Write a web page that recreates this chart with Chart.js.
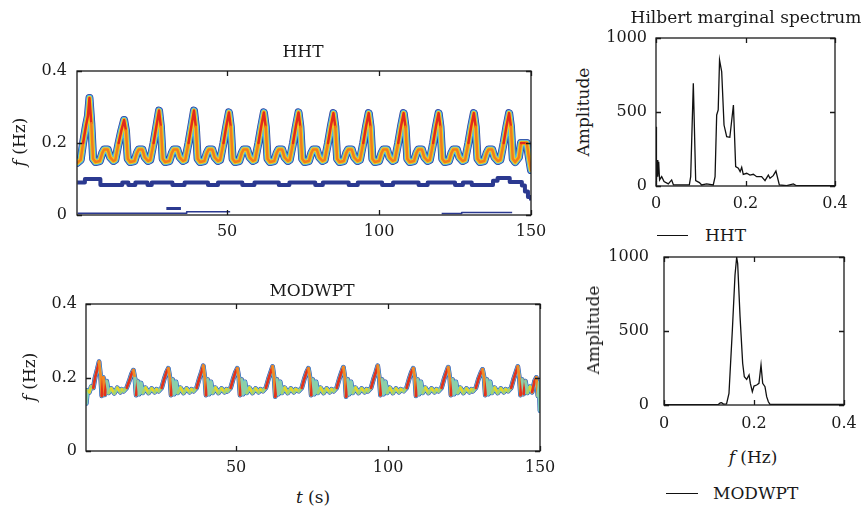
<!DOCTYPE html>
<html>
<head>
<meta charset="utf-8">
<script src="https://cdn.jsdelivr.net/npm/chart.js@4.4.1/dist/chart.umd.min.js"></script>
<style>
  body { margin: 0; background: #fff; }
  #wrap { position: relative; width: 866px; height: 513px; overflow: hidden; font-family: "DejaVu Serif", serif; color: #1a1a1a; }
  canvas { position: absolute; }
  .lbl { position: absolute; font-size: 17px; white-space: nowrap; transform: translate(-50%, -50%); }
  .rot { transform: translate(-50%, -50%) rotate(-90deg); }
  .lgline { position: absolute; height: 0; border-top: 1.3px solid #111; }
  .lgtext { position: absolute; font-size: 17px; transform: translateY(-50%); }
</style>
</head>
<body>
<div id="wrap">
  <canvas id="hhtTF" width="551" height="190" style="left:0px;top:60px"></canvas>
  <canvas id="modTF" width="560" height="196" style="left:0px;top:290px"></canvas>
  <canvas id="hhtSpec" width="255" height="190" style="left:600px;top:26px"></canvas>
  <canvas id="modSpec" width="264" height="190" style="left:600px;top:245px"></canvas>

  <div class="lbl" style="left:303px;top:51px">HHT</div>
  <div class="lbl" style="left:312px;top:290px">MODWPT</div>
  <div class="lbl" style="left:746px;top:17px">Hilbert marginal spectrum</div>
  <div class="lbl rot" style="left:19px;top:142px"><i>f</i> (Hz)</div>
  <div class="lbl rot" style="left:29px;top:377px"><i>f</i> (Hz)</div>
  <div class="lbl rot" style="left:583px;top:112px">Amplitude</div>
  <div class="lbl rot" style="left:593px;top:330px">Amplitude</div>
  <div class="lbl" style="left:313px;top:497px"><i>t</i> (s)</div>
  <div class="lbl" style="left:753px;top:457px"><i>f</i> (Hz)</div>

  <div class="lgline" style="left:657px;top:235px;width:31px"></div>
  <div class="lgtext" style="left:705px;top:235px">HHT</div>
  <div class="lgline" style="left:666px;top:493px;width:32px"></div>
  <div class="lgtext" style="left:713px;top:493px">MODWPT</div>
</div>

<script>
// --- HHT time-frequency: main ridge (t in s, f in Hz)
const hhtTime = [0.7, 1.8, 2.6, 3.6, 4.2, 4.7, 5.3, 5.9, 6.7, 8.1, 8.9, 9.5, 10.7, 11.5, 12.6,
  13.2, 14.3, 15.2, 16.1, 16.7, 17.3, 18.1, 19.5, 20.3, 20.9, 22.1, 22.9, 24.0,
  24.7, 25.8, 26.7, 27.6, 28.2, 28.8, 29.6, 31.0, 31.8, 32.4, 33.6, 34.4, 35.5,
  36.2, 37.3, 38.2, 39.1, 39.7, 40.3, 41.1, 42.5, 43.3, 43.9, 45.1, 45.9, 47.0,
  47.7, 48.8, 49.7, 50.6, 51.2, 51.8, 52.6, 54.0, 54.8, 55.4, 56.6, 57.4, 58.5,
  59.2, 60.3, 61.2, 62.1, 62.7, 63.3, 64.1, 65.5, 66.3, 66.9, 68.1, 68.9, 70.0,
  70.6, 71.7, 72.6, 73.5, 74.1, 74.7, 75.5, 76.9, 77.7, 78.3, 79.5, 80.3, 81.4,
  82.1, 83.2, 84.1, 85.0, 85.6, 86.2, 87.0, 88.4, 89.2, 89.8, 91.0, 91.8, 92.9,
  93.7, 94.8, 95.7, 96.6, 97.2, 97.8, 98.6, 100.0, 100.8, 101.4, 102.6, 103.4, 104.5,
  105.2, 106.3, 107.2, 108.1, 108.7, 109.3, 110.1, 111.5, 112.3, 112.9, 114.1, 114.9, 116.0,
  116.7, 117.8, 118.7, 119.6, 120.2, 120.8, 121.6, 123.0, 123.8, 124.4, 125.6, 126.4, 127.5,
  128.3, 129.4, 130.3, 131.2, 131.8, 132.4, 133.2, 134.6, 135.4, 136.0, 137.2, 138.0, 139.1,
  139.9, 141.0, 141.9, 142.8, 143.4, 144.0, 144.8, 146.0, 146.7, 148.6, 149.3, 150.0];
const hhtFreq = [0.145, 0.153, 0.2, 0.25, 0.275, 0.325, 0.255, 0.156, 0.147, 0.15, 0.172, 0.182, 0.182, 0.16, 0.15,
  0.153, 0.2, 0.235, 0.264, 0.235, 0.156, 0.147, 0.15, 0.172, 0.182, 0.182, 0.16, 0.15,
  0.153, 0.2, 0.245, 0.29, 0.245, 0.156, 0.147, 0.15, 0.172, 0.182, 0.182, 0.16, 0.15,
  0.153, 0.2, 0.245, 0.29, 0.245, 0.156, 0.147, 0.15, 0.172, 0.182, 0.182, 0.16, 0.15,
  0.153, 0.2, 0.245, 0.285, 0.245, 0.156, 0.147, 0.15, 0.172, 0.182, 0.182, 0.16, 0.15,
  0.153, 0.2, 0.245, 0.285, 0.245, 0.156, 0.147, 0.15, 0.172, 0.182, 0.182, 0.16, 0.15,
  0.153, 0.2, 0.245, 0.285, 0.245, 0.156, 0.147, 0.15, 0.172, 0.182, 0.182, 0.16, 0.15,
  0.153, 0.2, 0.245, 0.283, 0.245, 0.156, 0.147, 0.15, 0.172, 0.182, 0.182, 0.16, 0.15,
  0.153, 0.2, 0.245, 0.283, 0.245, 0.156, 0.147, 0.15, 0.172, 0.182, 0.182, 0.16, 0.15,
  0.153, 0.2, 0.245, 0.283, 0.245, 0.156, 0.147, 0.15, 0.172, 0.182, 0.182, 0.16, 0.15,
  0.153, 0.2, 0.245, 0.283, 0.245, 0.156, 0.147, 0.15, 0.172, 0.182, 0.182, 0.16, 0.15,
  0.153, 0.2, 0.245, 0.283, 0.245, 0.156, 0.147, 0.15, 0.172, 0.182, 0.182, 0.16, 0.15,
  0.153, 0.2, 0.245, 0.283, 0.245, 0.156, 0.147, 0.16, 0.2, 0.2, 0.16, 0.125];

// HHT lower IMF (stepped, around 0.09 Hz)
const hhtLowTime = [0.7, 3.2, 8.3, 15.5, 17.5, 19.8, 23.8, 25.2, 32.0, 36.0, 43.7, 47.0, 55.0, 59.0, 67.0, 70.5,
  79.0, 81.5, 90.0, 93.0, 101.0, 104.6, 113.0, 116.0, 125.0, 127.6, 130.5, 137.5, 139.0, 143.0, 147.0, 148.0, 149.0, 150.0];
const hhtLowFreq = [0.09, 0.1, 0.083, 0.09, 0.083, 0.09, 0.083, 0.09, 0.083, 0.09, 0.083, 0.09, 0.083, 0.09, 0.083, 0.09,
  0.083, 0.09, 0.083, 0.09, 0.083, 0.09, 0.083, 0.09, 0.083, 0.09, 0.083, 0.095, 0.103, 0.092, 0.082, 0.065, 0.05, 0.04];

// HHT residual traces near 0 Hz (null = gap)
const hhtBaseTime = [0.8, 36.7, 51.0, 51.1, 120.6, 127.2, 143.8];
const hhtBaseFreq = [0.005, 0.009, 0.009, null, 0.004, 0.007, 0.007];
const hhtBlipTime = [30.0, 34.8];
const hhtBlipFreq = [0.018, 0.018];

// --- MODWPT time-frequency ridge
const modTime = [0.7, 1.1, 1.7, 2.3, 3.0, 3.6, 4.3, 4.9, 5.4, 5.8, 6.3, 6.8, 7.4, 8.0, 8.9, 9.9, 10.9, 11.9, 12.4,
  13.0, 14.0, 14.8, 15.6, 16.2, 16.7, 17.1, 17.6, 18.1, 18.7, 19.3, 20.2, 21.2, 22.2, 23.2, 23.8,
  24.5, 25.5, 26.3, 27.1, 27.7, 28.2, 28.6, 29.1, 29.6, 30.2, 30.8, 31.7, 32.7, 33.7, 34.7, 35.3,
  36.0, 37.0, 37.8, 38.6, 39.2, 39.7, 40.1, 40.6, 41.1, 41.7, 42.3, 43.2, 44.2, 45.2, 46.2, 46.8,
  47.2, 48.2, 49.0, 49.8, 50.4, 50.9, 51.3, 51.8, 52.3, 52.9, 53.5, 54.4, 55.4, 56.4, 57.4, 58.0,
  58.8, 59.8, 60.6, 61.4, 62.0, 62.5, 62.9, 63.4, 63.9, 64.5, 65.1, 66.0, 67.0, 68.0, 69.0, 69.6,
  70.6, 71.6, 72.4, 73.2, 73.8, 74.3, 74.7, 75.2, 75.7, 76.3, 76.9, 77.8, 78.8, 79.8, 80.8, 81.4,
  82.1, 83.1, 83.9, 84.7, 85.3, 85.8, 86.2, 86.7, 87.2, 87.8, 88.4, 89.3, 90.3, 91.3, 92.3, 92.9,
  93.4, 94.4, 95.2, 96.0, 96.6, 97.1, 97.5, 98.0, 98.5, 99.1, 99.7, 100.6, 101.6, 102.6, 103.6, 104.2,
  105.1, 106.1, 106.9, 107.7, 108.3, 108.8, 109.2, 109.7, 110.2, 110.8, 111.4, 112.3, 113.3, 114.3, 115.3, 115.9,
  116.6, 117.6, 118.4, 119.2, 119.8, 120.3, 120.7, 121.2, 121.7, 122.3, 122.9, 123.8, 124.8, 125.8, 126.8, 127.4,
  127.9, 128.9, 129.7, 130.5, 131.1, 131.6, 132.0, 132.5, 133.0, 133.6, 134.2, 135.1, 136.1, 137.1, 138.1, 138.7,
  139.5, 140.5, 141.3, 142.1, 142.7, 143.2, 143.6, 144.1, 144.6, 145.2, 145.8, 146.7, 147.4, 148.2, 148.8, 149.3, 149.7, 150.0];
const modFreq = [0.13, 0.165, 0.16, 0.175, 0.172, 0.2, 0.222, 0.243, 0.205, 0.15, 0.2, 0.153, 0.19, 0.158, 0.17, 0.157, 0.172, 0.16, 0.168,
  0.163, 0.172, 0.19, 0.21, 0.22, 0.198, 0.152, 0.19, 0.155, 0.185, 0.158, 0.172, 0.158, 0.17, 0.16, 0.168,
  0.163, 0.172, 0.195, 0.215, 0.225, 0.2, 0.152, 0.195, 0.155, 0.188, 0.158, 0.172, 0.158, 0.17, 0.16, 0.168,
  0.163, 0.172, 0.195, 0.215, 0.232, 0.2, 0.152, 0.195, 0.155, 0.188, 0.158, 0.172, 0.158, 0.17, 0.16, 0.168,
  0.163, 0.172, 0.195, 0.215, 0.225, 0.2, 0.152, 0.195, 0.155, 0.188, 0.158, 0.172, 0.158, 0.17, 0.16, 0.168,
  0.163, 0.172, 0.195, 0.215, 0.23, 0.2, 0.148, 0.195, 0.155, 0.188, 0.158, 0.172, 0.158, 0.17, 0.16, 0.168,
  0.163, 0.172, 0.195, 0.215, 0.225, 0.2, 0.152, 0.195, 0.155, 0.188, 0.158, 0.172, 0.158, 0.17, 0.16, 0.168,
  0.163, 0.172, 0.195, 0.215, 0.228, 0.2, 0.148, 0.195, 0.155, 0.188, 0.158, 0.172, 0.158, 0.17, 0.16, 0.168,
  0.163, 0.172, 0.195, 0.215, 0.232, 0.2, 0.152, 0.195, 0.155, 0.188, 0.158, 0.172, 0.158, 0.17, 0.16, 0.168,
  0.163, 0.172, 0.195, 0.215, 0.225, 0.2, 0.15, 0.195, 0.155, 0.188, 0.158, 0.172, 0.158, 0.17, 0.16, 0.168,
  0.163, 0.172, 0.195, 0.215, 0.228, 0.2, 0.152, 0.195, 0.155, 0.188, 0.158, 0.172, 0.158, 0.17, 0.16, 0.168,
  0.163, 0.172, 0.195, 0.212, 0.222, 0.2, 0.152, 0.195, 0.155, 0.188, 0.158, 0.172, 0.158, 0.17, 0.16, 0.168,
  0.163, 0.172, 0.195, 0.215, 0.23, 0.2, 0.152, 0.195, 0.155, 0.19, 0.158, 0.175, 0.16, 0.19, 0.2, 0.15, 0.185, 0.11];

// --- Hilbert marginal spectra (f in Hz, amplitude)
const hhtSpecFreq = [0, 0.001, 0.003, 0.004, 0.006, 0.008, 0.0127, 0.018, 0.0275, 0.035, 0.039, 0.0745, 0.0775, 0.0834, 0.0887,
  0.097, 0.102, 0.113, 0.128, 0.132, 0.1356, 0.139, 0.142, 0.1468, 0.152, 0.158, 0.165, 0.173, 0.178, 0.184, 0.188,
  0.1915, 0.195, 0.2026, 0.21, 0.2175, 0.225, 0.236, 0.2436, 0.251, 0.2547, 0.262, 0.268, 0.2756, 0.292, 0.307, 0.314, 0.4];
const hhtSpecAmp = [401, 29, 176, 63, 164, 41, 63, 30, 14, 41, 7, 7, 63, 694, 36,
  23, 7, 14, 7, 63, 480, 514, 851, 772, 412, 333, 329, 547, 131, 120, 97,
  126, 79, 86, 74, 79, 63, 63, 36, 74, 52, 70, 101, 7, 2, 14, 2, 2];
const modSpecFreq = [0, 0.12, 0.125, 0.128, 0.132, 0.139, 0.1444, 0.1519, 0.1578, 0.1615, 0.1637, 0.169, 0.1748, 0.1785,
  0.1837, 0.189, 0.1919, 0.1963, 0.2, 0.206, 0.211, 0.2156, 0.2193, 0.2244, 0.2281, 0.2319, 0.2356, 0.4];
const modSpecAmp = [2, 2, 14, 16, 6, 7, 79, 507, 878, 998, 957, 597, 282, 191,
  173, 203, 146, 90, 128, 135, 146, 270, 146, 124, 56, 22, 4, 4];

const tTicks = [50, 100, 150];
const fTicks = [0, 0.2, 0.4];
const ampTicks = [0, 500, 1000];

const tickFont = { family: "DejaVu Serif", size: 16 };
const pts = (xs, ys) => xs.map((x, i) => ({ x: x, y: ys[i] }));

// box + inward ticks on all four sides, matlab style
const boxTicks = {
  id: 'boxTicks',
  afterDatasetsDraw(chart) {
    const { ctx, chartArea: a, scales: { x, y } } = chart;
    ctx.save();
    ctx.strokeStyle = '#1a1a1a';
    ctx.lineWidth = 1.3;
    ctx.beginPath();
    x.ticks.forEach(t => {
      const px = Math.round(x.getPixelForValue(t.value)) + 0.5;
      ctx.moveTo(px, a.bottom); ctx.lineTo(px, a.bottom - 5);
      ctx.moveTo(px, a.top); ctx.lineTo(px, a.top + 5);
    });
    y.ticks.forEach(t => {
      const py = Math.round(y.getPixelForValue(t.value)) + 0.5;
      ctx.moveTo(a.left, py); ctx.lineTo(a.left + 5, py);
      ctx.moveTo(a.right, py); ctx.lineTo(a.right - 5, py);
    });
    ctx.stroke();
    ctx.strokeRect(a.left, a.top, a.right - a.left, a.bottom - a.top);
    ctx.restore();
  }
};

// fixed axis sizes so the plot boxes land where the figure has them
function scales(xMin, xMax, xTicks, yMax, yTicks, yWidth, xHeight, xPad, yPad) {
  return {
    x: {
      type: 'linear', min: xMin, max: xMax,
      afterBuildTicks: s => { s.ticks = xTicks.map(v => ({ value: v })); },
      afterFit: s => { s.height = xHeight; s.paddingLeft = 0; s.paddingRight = 0; },
      grid: { display: false, drawTicks: false },
      border: { display: false },
      ticks: { font: tickFont, color: '#1a1a1a', padding: xPad, maxRotation: 0, autoSkip: false, callback: v => String(v) }
    },
    y: {
      type: 'linear', min: 0, max: yMax,
      afterBuildTicks: s => { s.ticks = yTicks.map(v => ({ value: v })); },
      afterFit: s => { s.width = yWidth; s.paddingTop = 0; s.paddingBottom = 0; },
      grid: { display: false, drawTicks: false },
      border: { display: false },
      ticks: { font: tickFont, color: '#1a1a1a', padding: yPad, autoSkip: false, callback: v => String(v) }
    }
  };
}

const baseOpts = (sc, pad) => ({
  responsive: false, animation: false, devicePixelRatio: 1,
  layout: { padding: pad },
  plugins: { legend: { display: false }, tooltip: { enabled: false } },
  elements: { point: { radius: 0 } },
  scales: sc
});

// ridge drawn as stacked strokes to fake the jet colouring
// (first dataset ends up on top)
function band(data, width, color, extra) {
  return Object.assign({ data: data, borderColor: color, borderWidth: width, pointRadius: 0,
    tension: 0, borderJoinStyle: 'round', borderCapStyle: 'round' }, extra || {});
}

const hhtRidge = pts(hhtTime, hhtFreq);
new Chart(document.getElementById('hhtTF'), {
  type: 'line',
  data: {
    datasets: [
      band(hhtRidge, 2.5, '#f07c1e', {
        segment: { borderColor: c => (c.p0.parsed.y >= 0.2 && c.p1.parsed.y >= 0.2) ? '#e2291c' : undefined }
      }),
      band(hhtRidge, 4.5, '#f3cf1c'),
      band(hhtRidge, 6.5, '#52b9e6'),
      band(hhtRidge, 8, '#2e3f9e'),
      band(pts(hhtLowTime, hhtLowFreq), 4, '#2b3990', { stepped: true, borderCapStyle: 'butt' }),
      band(pts(hhtBaseTime, hhtBaseFreq), 1.6, '#2b3990', { stepped: true, borderCapStyle: 'butt' }),
      band(pts(hhtBlipTime, hhtBlipFreq), 3, '#2b3990', { borderCapStyle: 'butt' })
    ]
  },
  options: baseOpts(scales(0.6, 150, tTicks, 0.4, fTicks, 77, 35, 7, 10), { top: 11, right: 20 }),
  plugins: [boxTicks]
});

const modRidge = pts(modTime, modFreq);
new Chart(document.getElementById('modTF'), {
  type: 'line',
  data: {
    datasets: [
      band(modRidge, 2.8, '#e6d428', {
        segment: {
          borderColor: c => {
            const y0 = c.p0.parsed.y, y1 = c.p1.parsed.y;
            if (y1 > y0 && y1 >= 0.19) return '#e2321c';
            if (y0 >= 0.2 && y1 < y0) return '#f08a24';
            if (Math.abs(y1 - y0) > 0.025) return '#8ccfa8';
            return c.p0DataIndex % 2 ? '#a9d36a' : undefined;
          }
        }
      }),
      band(modRidge, 3.8, '#5fc6e4'),
      band(modRidge, 4.8, '#3049a8')
    ]
  },
  options: baseOpts(scales(0.6, 150, tTicks, 0.4, fTicks, 86, 35, 7, 9), { top: 14, right: 20 }),
  plugins: [boxTicks]
});

new Chart(document.getElementById('hhtSpec'), {
  type: 'line',
  data: { datasets: [band(pts(hhtSpecFreq, hhtSpecAmp), 1.3, '#111', { borderJoinStyle: 'miter', borderCapStyle: 'butt' })] },
  options: baseOpts(scales(0, 0.4, fTicks, 1000, ampTicks, 56, 30, 8, 9), { top: 12, right: 20 }),
  plugins: [boxTicks]
});

new Chart(document.getElementById('modSpec'), {
  type: 'line',
  data: { datasets: [band(pts(modSpecFreq, modSpecAmp), 1.3, '#111', { borderJoinStyle: 'miter', borderCapStyle: 'butt' })] },
  options: baseOpts(scales(0, 0.4, fTicks, 1000, ampTicks, 64, 30, 9, 15), { top: 12, right: 20 }),
  plugins: [boxTicks]
});
</script>
</body>
</html>
